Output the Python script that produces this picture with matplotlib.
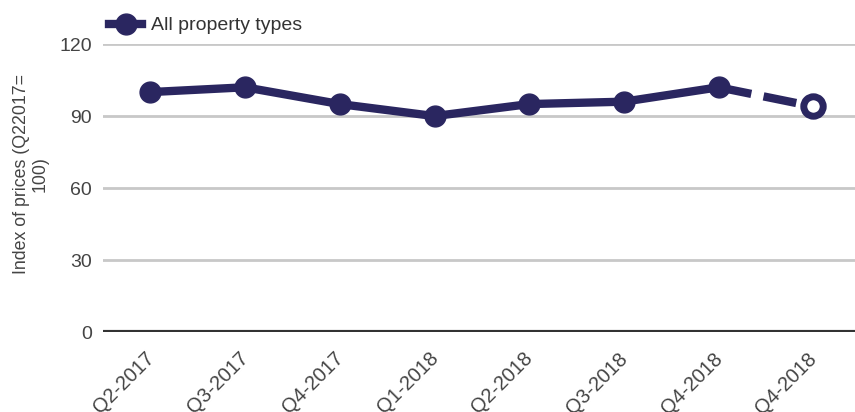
import matplotlib.pyplot as plt
import matplotlib.transforms as mtransforms
from matplotlib.lines import Line2D

plt.rcParams['font.family'] = ['Liberation Sans', 'DejaVu Sans']

# Quarterly price index (Q2 2017 = 100)
quarters = ["Q2-2017", "Q3-2017", "Q4-2017", "Q1-2018",
            "Q2-2018", "Q3-2018", "Q4-2018", "Q4-2018"]
index_values = [100, 102, 95, 90, 95, 96, 102, 94]
y_ticks = [0, 30, 60, 90, 120]

navy = '#2a2660'
x = list(range(len(quarters)))

fig = plt.figure(figsize=(8.55, 4.12), dpi=100)
ax = fig.add_axes([0.1205, 0.194, 0.8795, 0.699])

# grid lines
for t in y_ticks:
    if t == 0:
        ax.axhline(t, color='#333333', lw=3, zorder=1)
    else:
        ax.axhline(t, color='#c8c8c8', lw=2, zorder=1)

# solid part, then dashed last segment (estimate)
ax.plot(x[:-1], index_values[:-1], color=navy, lw=6, marker='o',
        markersize=15, solid_capstyle='butt', zorder=3)
ax.plot(x[-2:], index_values[-2:], color=navy, lw=6,
        dashes=(4, 1.5), dash_capstyle='butt', zorder=3)
ax.plot(x[-1], index_values[-1], marker='o', markersize=14,
        markerfacecolor='white', markeredgecolor=navy,
        markeredgewidth=5, linestyle='none', zorder=4)

ax.set_xlim(-0.5, 7.44)
ax.set_ylim(0, 120)
ax.set_yticks(y_ticks)
ax.set_xticks(x)
ax.set_xticklabels(quarters, rotation=45, ha='right',
                   rotation_mode='anchor', fontsize=14.5, color='#444444')
ax.tick_params(axis='y', length=0, pad=8, labelsize=14, labelcolor='#444444')
ax.tick_params(axis='x', length=0, pad=12)
shift = mtransforms.ScaledTranslation(-6 / 100, 0, fig.dpi_scale_trans)
for lbl in ax.get_xticklabels():
    lbl.set_transform(lbl.get_transform() + shift)
for s in ax.spines.values():
    s.set_visible(False)

ax.set_ylabel("Index of prices (Q22017=\n100)", fontsize=12.8, color='#444444',
              linespacing=1.1)
ax.yaxis.set_label_coords(-0.073, 0.55)

handle = Line2D([], [], color=navy, lw=6, marker='o', markersize=15)
ax.legend([handle], ["All property types"], loc='lower left',
          bbox_to_anchor=(-0.005, 1.0), frameon=False, fontsize=14,
          handlelength=1.7, handletextpad=0.45, borderaxespad=0.1,
          labelcolor='#333333')

fig.savefig('out.png', dpi=100)
